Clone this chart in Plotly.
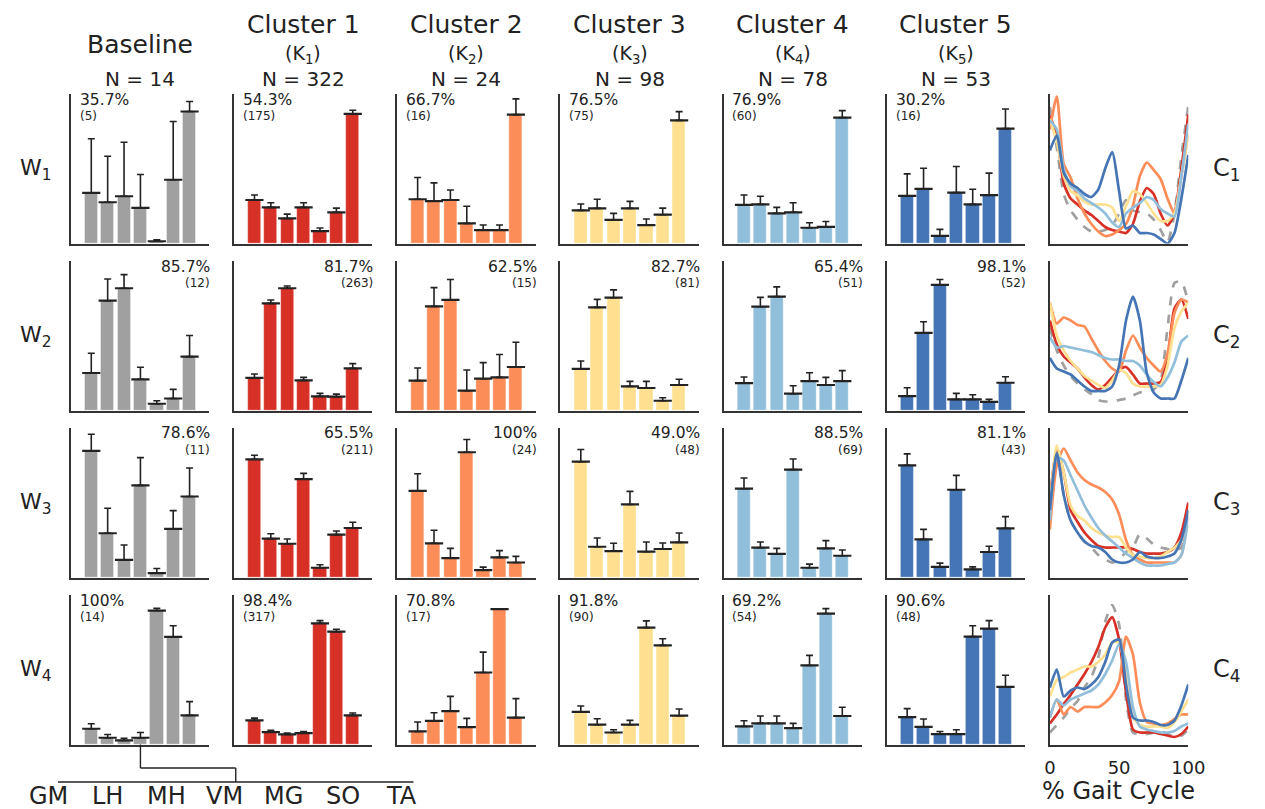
import plotly.graph_objects as go

# ---------------- data ----------------
muscles = ["GM", "LH", "MH", "VM", "MG", "SO", "TA"]
group_names = ["Baseline", "Cluster 1", "Cluster 2", "Cluster 3", "Cluster 4", "Cluster 5"]
group_k = ["", "1", "2", "3", "4", "5"]
group_N = [14, 322, 24, 98, 78, 53]
group_colors = ["#a0a0a0", "#d73027", "#fc8d59", "#fee090", "#91bfdb", "#4575b4"]

# synergy weights (rows W1..W4, columns = muscles), normalised per panel
baseline_mean = [[0.338, 0.275, 0.315, 0.238, 0.015, 0.425, 0.88],
                 [0.25, 0.732, 0.815, 0.208, 0.045, 0.08, 0.359],
                 [0.844, 0.295, 0.118, 0.614, 0.029, 0.324, 0.54],
                 [0.105, 0.045, 0.027, 0.045, 0.893, 0.717, 0.194]]
baseline_upper = [[0.698, 0.582, 0.675, 0.46, 0.025, 0.813, 0.947],
                  [0.382, 0.877, 0.906, 0.288, 0.065, 0.141, 0.5],
                  [0.955, 0.462, 0.217, 0.799, 0.06, 0.446, 0.73],
                  [0.138, 0.067, 0.042, 0.08, 0.908, 0.792, 0.286]]
c1_mean = [[0.29, 0.241, 0.167, 0.241, 0.082, 0.208, 0.864],
           [0.217, 0.714, 0.815, 0.201, 0.094, 0.092, 0.281],
           [0.788, 0.259, 0.225, 0.656, 0.065, 0.286, 0.33],
           [0.161, 0.083, 0.067, 0.076, 0.808, 0.752, 0.194]]
c1_upper = [[0.323, 0.272, 0.196, 0.272, 0.103, 0.236, 0.888],
            [0.243, 0.737, 0.83, 0.221, 0.114, 0.109, 0.3125],
            [0.815, 0.292, 0.257, 0.694, 0.085, 0.31, 0.368],
            [0.176, 0.094, 0.076, 0.087, 0.826, 0.768, 0.21]]
c2_mean = [[0.295, 0.283, 0.29, 0.134, 0.089, 0.089, 0.859],
           [0.199, 0.694, 0.737, 0.132, 0.212, 0.221, 0.29],
           [0.578, 0.228, 0.129, 0.835, 0.049, 0.134, 0.1],
           [0.087, 0.158, 0.223, 0.116, 0.48, 0.902, 0.179]]
c2_upper = [[0.44, 0.404, 0.357, 0.248, 0.123, 0.123, 0.964],
            [0.283, 0.819, 0.873, 0.27, 0.319, 0.373, 0.455],
            [0.692, 0.315, 0.194, 0.92, 0.069, 0.179, 0.141],
            [0.15, 0.212, 0.321, 0.174, 0.616, 0.905, 0.306]]
c3_mean = [[0.221, 0.234, 0.158, 0.234, 0.123, 0.192, 0.821],
           [0.277, 0.6875, 0.752, 0.161, 0.15, 0.065, 0.17],
           [0.772, 0.205, 0.176, 0.487, 0.172, 0.19, 0.234],
           [0.217, 0.132, 0.08, 0.132, 0.779, 0.661, 0.192]]
c3_upper = [[0.263, 0.295, 0.201, 0.281, 0.163, 0.236, 0.879],
            [0.33, 0.741, 0.804, 0.194, 0.194, 0.085, 0.208],
            [0.853, 0.263, 0.228, 0.574, 0.237, 0.23, 0.297],
            [0.257, 0.172, 0.098, 0.161, 0.824, 0.705, 0.237]]
c4_mean = [[0.257, 0.261, 0.201, 0.208, 0.105, 0.111, 0.839],
           [0.183, 0.692, 0.759, 0.112, 0.196, 0.17, 0.196],
           [0.592, 0.199, 0.158, 0.719, 0.065, 0.194, 0.145],
           [0.121, 0.141, 0.141, 0.109, 0.527, 0.873, 0.19]]
c4_upper = [[0.323, 0.315, 0.241, 0.272, 0.138, 0.147, 0.886],
            [0.223, 0.754, 0.824, 0.165, 0.252, 0.221, 0.266],
            [0.663, 0.237, 0.194, 0.79, 0.089, 0.246, 0.183],
            [0.158, 0.19, 0.19, 0.141, 0.594, 0.906, 0.248]]
c5_mean = [[0.317, 0.364, 0.051, 0.339, 0.261, 0.323, 0.766],
           [0.096, 0.518, 0.837, 0.074, 0.074, 0.058, 0.185],
           [0.748, 0.254, 0.071, 0.585, 0.054, 0.17, 0.328],
           [0.183, 0.118, 0.069, 0.069, 0.719, 0.772, 0.384]]
c5_upper = [[0.464, 0.502, 0.094, 0.513, 0.362, 0.469, 0.897],
            [0.152, 0.592, 0.873, 0.114, 0.105, 0.074, 0.225],
            [0.824, 0.321, 0.096, 0.681, 0.071, 0.208, 0.406],
            [0.239, 0.17, 0.087, 0.098, 0.792, 0.826, 0.462]]

# percentage of subjects showing each synergy, and counts
baseline_pct = ["35.7%", "85.7%", "78.6%", "100%"]
baseline_cnt = [5, 12, 11, 14]
c1_pct = ["54.3%", "81.7%", "65.5%", "98.4%"]
c1_cnt = [175, 263, 211, 317]
c2_pct = ["66.7%", "62.5%", "100%", "70.8%"]
c2_cnt = [16, 15, 24, 17]
c3_pct = ["76.5%", "82.7%", "49.0%", "91.8%"]
c3_cnt = [75, 81, 48, 90]
c4_pct = ["76.9%", "65.4%", "88.5%", "69.2%"]
c4_cnt = [60, 51, 69, 54]
c5_pct = ["30.2%", "98.1%", "81.1%", "90.6%"]
c5_cnt = [16, 52, 43, 48]

# activation coefficients C1..C4 over the gait cycle
gait_pct = [0, 5, 10, 15, 20, 25, 30, 35, 40, 45, 50, 55, 60, 65, 70, 75, 80, 85, 90, 95, 100]
baseline_C = [
    [0.91, 0.64, 0.33, 0.22, 0.16, 0.11, 0.08, 0.08, 0.09, 0.12, 0.2, 0.29, 0.22, 0.21, 0.2, 0.16, 0.09, 0.01, 0.2, 0.58, 0.92],
    [0.55, 0.4, 0.3, 0.23, 0.18, 0.14, 0.11, 0.07, 0.06, 0.06, 0.07, 0.08, 0.1, 0.12, 0.13, 0.14, 0.2, 0.55, 0.85, 0.86, 0.72],
    [0.5, 0.85, 0.55, 0.38, 0.3, 0.24, 0.2, 0.15, 0.12, 0.1, 0.12, 0.17, 0.2, 0.29, 0.26, 0.22, 0.2, 0.19, 0.18, 0.2, 0.38],
    [0.08, 0.13, 0.18, 0.24, 0.29, 0.38, 0.45, 0.58, 0.82, 0.93, 0.8, 0.3, 0.08, 0.07, 0.07, 0.08, 0.09, 0.07, 0.05, 0.06, 0.1]]
c1_C = [
    [0.85, 0.72, 0.4, 0.3, 0.26, 0.22, 0.19, 0.15, 0.11, 0.09, 0.08, 0.07, 0.13, 0.28, 0.37, 0.33, 0.2, 0.12, 0.2, 0.5, 0.86],
    [0.6, 0.44, 0.36, 0.32, 0.28, 0.22, 0.17, 0.14, 0.17, 0.22, 0.27, 0.29, 0.24, 0.18, 0.18, 0.18, 0.19, 0.35, 0.68, 0.74, 0.61],
    [0.52, 0.86, 0.7, 0.45, 0.37, 0.3, 0.25, 0.21, 0.2, 0.2, 0.2, 0.2, 0.19, 0.17, 0.16, 0.16, 0.16, 0.17, 0.2, 0.3, 0.5],
    [0.14, 0.2, 0.27, 0.33, 0.4, 0.47, 0.55, 0.65, 0.78, 0.85, 0.7, 0.35, 0.1, 0.08, 0.08, 0.08, 0.07, 0.06, 0.05, 0.07, 0.12]]
c2_C = [
    [0.76, 0.98, 0.53, 0.44, 0.3, 0.2, 0.13, 0.08, 0.05, 0.06, 0.09, 0.13, 0.25, 0.45, 0.54, 0.49, 0.43, 0.3, 0.2, 0.45, 0.73],
    [0.72, 0.58, 0.62, 0.6, 0.57, 0.56, 0.48, 0.4, 0.33, 0.28, 0.26, 0.4, 0.5, 0.42, 0.35, 0.3, 0.26, 0.38, 0.65, 0.74, 0.72],
    [0.32, 0.75, 0.86, 0.78, 0.7, 0.65, 0.62, 0.6, 0.57, 0.52, 0.42, 0.25, 0.15, 0.12, 0.1, 0.1, 0.1, 0.1, 0.1, 0.15, 0.45],
    [0.18, 0.3, 0.2, 0.25, 0.22, 0.25, 0.25, 0.25, 0.28, 0.33, 0.42, 0.72, 0.6, 0.28, 0.15, 0.14, 0.13, 0.14, 0.17, 0.2, 0.2]]
c3_C = [
    [0.83, 0.68, 0.45, 0.35, 0.32, 0.28, 0.26, 0.26, 0.26, 0.24, 0.15, 0.25, 0.35, 0.33, 0.27, 0.2, 0.15, 0.15, 0.2, 0.45, 0.72],
    [0.72, 0.5, 0.4, 0.33, 0.28, 0.23, 0.2, 0.17, 0.15, 0.2, 0.27, 0.25, 0.18, 0.16, 0.16, 0.16, 0.17, 0.3, 0.55, 0.66, 0.72],
    [0.48, 0.88, 0.7, 0.48, 0.41, 0.38, 0.33, 0.3, 0.28, 0.27, 0.27, 0.2, 0.15, 0.14, 0.13, 0.13, 0.14, 0.17, 0.2, 0.25, 0.34],
    [0.32, 0.43, 0.45, 0.48, 0.5, 0.52, 0.52, 0.55, 0.6, 0.68, 0.68, 0.45, 0.18, 0.13, 0.12, 0.12, 0.12, 0.11, 0.15, 0.22, 0.3]]
c4_C = [
    [0.82, 0.76, 0.5, 0.38, 0.35, 0.3, 0.27, 0.24, 0.2, 0.14, 0.11, 0.2, 0.24, 0.27, 0.31, 0.29, 0.23, 0.2, 0.18, 0.45, 0.8],
    [0.49, 0.42, 0.43, 0.42, 0.41, 0.4, 0.39, 0.37, 0.35, 0.34, 0.34, 0.33, 0.33, 0.3, 0.24, 0.19, 0.16, 0.22, 0.32, 0.46, 0.5],
    [0.38, 0.8, 0.78, 0.68, 0.58, 0.48, 0.4, 0.33, 0.28, 0.24, 0.2, 0.16, 0.13, 0.1, 0.08, 0.08, 0.08, 0.09, 0.1, 0.15, 0.4],
    [0.18, 0.3, 0.26, 0.3, 0.32, 0.34, 0.36, 0.4, 0.47, 0.56, 0.67, 0.55, 0.25, 0.12, 0.1, 0.09, 0.08, 0.08, 0.09, 0.12, 0.14]]
c5_C = [
    [0.62, 0.72, 0.47, 0.4, 0.37, 0.33, 0.31, 0.36, 0.5, 0.61, 0.35, 0.1, 0.12, 0.07, 0.07, 0.06, 0.03, 0.0, 0.07, 0.3, 0.59],
    [0.35, 0.28, 0.26, 0.24, 0.2, 0.16, 0.13, 0.13, 0.13, 0.16, 0.3, 0.6, 0.76, 0.6, 0.25, 0.12, 0.08, 0.08, 0.08, 0.2, 0.35],
    [0.45, 0.83, 0.55, 0.38, 0.3, 0.24, 0.21, 0.2, 0.17, 0.12, 0.1, 0.1, 0.12, 0.17, 0.14, 0.13, 0.13, 0.14, 0.16, 0.25, 0.45],
    [0.38, 0.5, 0.32, 0.36, 0.38, 0.37, 0.4, 0.45, 0.55, 0.68, 0.7, 0.4, 0.18, 0.16, 0.16, 0.15, 0.13, 0.13, 0.16, 0.26, 0.4]]

means = [baseline_mean, c1_mean, c2_mean, c3_mean, c4_mean, c5_mean]
uppers = [baseline_upper, c1_upper, c2_upper, c3_upper, c4_upper, c5_upper]
pcts = [baseline_pct, c1_pct, c2_pct, c3_pct, c4_pct, c5_pct]
cnts = [baseline_cnt, c1_cnt, c2_cnt, c3_cnt, c4_cnt, c5_cnt]
curves = [baseline_C, c1_C, c2_C, c3_C, c4_C, c5_C]

# ---------------- layout geometry (pixels) ----------------
W, H = 1265, 809
COL_LEFT0, COL_STEP, COL_W = 66, 166.2, 141
ROW_TOP0, ROW_STEP, ROW_H = 93.5, 167, 150
FONT = "DejaVu Sans"
TXT = "#222222"
AX = "#333333"


def px(x):
    return x / W


def py(y):
    return 1 - y / H


fig = go.Figure()
annotations = []
shapes = []
xpos = list(range(len(muscles)))

n = 0
for r in range(4):
    top = ROW_TOP0 + r * ROW_STEP
    bot = top + ROW_H
    for c in range(7):
        n += 1
        xa = "x" if n == 1 else f"x{n}"
        ya = "y" if n == 1 else f"y{n}"
        left = COL_LEFT0 + c * COL_STEP
        right = left + COL_W
        xkey = "xaxis" if n == 1 else f"xaxis{n}"
        ykey = "yaxis" if n == 1 else f"yaxis{n}"
        common = dict(showline=True, linecolor=AX, linewidth=1.6, showgrid=False,
                      zeroline=False, ticks="", showticklabels=False, fixedrange=True)
        if c < 6:
            m = means[c][r]
            up = uppers[c][r]
            fig.add_trace(go.Bar(
                x=xpos, y=m, xaxis=xa, yaxis=ya, width=0.8,
                marker=dict(color=group_colors[c], line=dict(width=0.6, color="rgba(255,255,255,0.6)")),
                error_y=dict(type="data", symmetric=False,
                             array=[u - v for u, v in zip(up, m)],
                             arrayminus=[0] * len(m), color=TXT, thickness=1.6, width=3.5),
                showlegend=False, hoverinfo="skip"))
            fig.add_trace(go.Scatter(
                x=xpos, y=m, xaxis=xa, yaxis=ya, mode="markers",
                marker=dict(symbol="line-ew", size=13, color=TXT, line=dict(width=2.2, color=TXT)),
                showlegend=False, hoverinfo="skip"))
            fig.layout[xkey] = dict(domain=[px(left), px(right)], range=[-1.25, 7.2],
                                    anchor=ya, **common)
            fig.layout[ykey] = dict(domain=[py(bot), py(top)], range=[0, 1], anchor=xa, **common)
            # percentage annotations
            if r in (0, 3):
                ax_x, anc = px(left + 8), "left"
            else:
                ax_x, anc = px(right + 2), "right"
            annotations.append(dict(x=ax_x, y=py(top + 6), xref="paper", yref="paper",
                                    text=pcts[c][r], showarrow=False, xanchor=anc, yanchor="middle",
                                    borderpad=0,
                                    font=dict(size=15.5, color=TXT, family=FONT)))
            annotations.append(dict(x=ax_x, y=py(top + 22), xref="paper", yref="paper",
                                    text=f"({cnts[c][r]})", showarrow=False, xanchor=anc, yanchor="middle",
                                    borderpad=0,
                                    font=dict(size=12, color=TXT, family=FONT)))
        else:
            for g in range(6):
                fig.add_trace(go.Scatter(
                    x=gait_pct, y=curves[g][r], xaxis=xa, yaxis=ya, mode="lines",
                    line=dict(color=group_colors[g], width=2.7, shape="spline", smoothing=0.6,
                              dash="dash" if g == 0 else "solid"),
                    showlegend=False, hoverinfo="skip"))
            xdict = dict(domain=[px(left), px(right)], range=[0, 100], anchor=ya, **common)
            if r == 3:
                xdict.update(showticklabels=True, tickvals=[0, 50, 100],
                             ticktext=["0", "50", "100"], ticks="outside", ticklen=6,
                             tickcolor="rgba(0,0,0,0)",
                             tickfont=dict(size=18, color=TXT, family=FONT))
            fig.layout[xkey] = xdict
            fig.layout[ykey] = dict(domain=[py(bot), py(top)], range=[0, 1], anchor=xa, **common)
            annotations.append(dict(x=px(1243), y=py(top + 76), xref="paper", yref="paper",
                                    text=f"C<sub>{r + 1}</sub>", showarrow=False,
                                    xanchor="center", yanchor="middle",
                                    font=dict(size=24, color=TXT, family=FONT)))
    annotations.append(dict(x=px(31), y=py(top + 76), xref="paper", yref="paper",
                            text=f"W<sub>{r + 1}</sub>", showarrow=False,
                            xanchor="center", yanchor="middle",
                            font=dict(size=22, color=TXT, family=FONT)))

# column headers
for c in range(6):
    cx = px(COL_LEFT0 + c * COL_STEP + COL_W / 2)
    if c == 0:
        annotations.append(dict(x=cx, y=py(44), xref="paper", yref="paper", text=group_names[c],
                                showarrow=False, xanchor="center", yanchor="middle",
                                font=dict(size=25, color=TXT, family=FONT)))
    else:
        annotations.append(dict(x=cx, y=py(24), xref="paper", yref="paper", text=group_names[c],
                                showarrow=False, xanchor="center", yanchor="middle",
                                font=dict(size=25, color=TXT, family=FONT)))
        annotations.append(dict(x=cx, y=py(54), xref="paper", yref="paper",
                                text=f"(K<sub>{group_k[c]}</sub>)",
                                showarrow=False, xanchor="center", yanchor="middle",
                                font=dict(size=19, color=TXT, family=FONT)))
    annotations.append(dict(x=cx, y=py(78.5), xref="paper", yref="paper", text=f"N = {group_N[c]}",
                            showarrow=False, xanchor="center", yanchor="middle",
                            font=dict(size=20, color=TXT, family=FONT)))

# muscle legend at the bottom
for i, mname in enumerate(muscles):
    annotations.append(dict(x=px(43 + 60 * i), y=py(796), xref="paper", yref="paper", text=mname,
                            showarrow=False, xanchor="center", yanchor="middle",
                            font=dict(size=24, color=TXT, family=FONT)))
annotations.append(dict(x=px(1133), y=py(791), xref="paper", yref="paper", text="% Gait Cycle",
                        showarrow=False, xanchor="center", yanchor="middle",
                        font=dict(size=24, color=TXT, family=FONT)))

# bracket connecting the baseline panel to the muscle axis
bx = COL_LEFT0 + (3 + 1.25) / 8.45 * COL_W
bbot = ROW_TOP0 + 3 * ROW_STEP + ROW_H
segs = [((bx, bbot), (bx, 768)), ((bx, 768), (234, 768)), ((234, 768), (234, 782)),
        ((53, 782), (415, 782))]
for (x0, y0), (x1, y1) in segs:
    shapes.append(dict(type="line", xref="paper", yref="paper", x0=px(x0), y0=py(y0),
                       x1=px(x1), y1=py(y1), line=dict(color=TXT, width=1.4)))

fig.update_layout(width=W, height=H, margin=dict(l=0, r=0, t=0, b=0),
                  paper_bgcolor="white", plot_bgcolor="white",
                  annotations=annotations, shapes=shapes, bargap=0,
                  font=dict(family=FONT, color=TXT))

fig.write_html("out.html", config={"displayModeBar": False},
               post_script="document.body.style.margin='0';document.body.style.overflow='hidden';")
